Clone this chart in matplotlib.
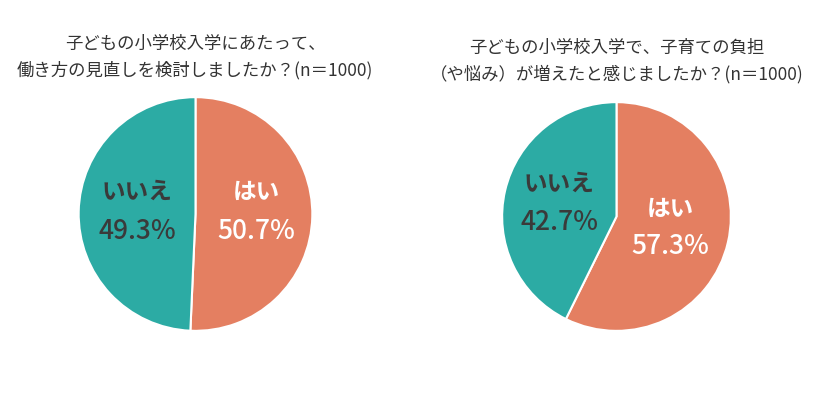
import matplotlib
matplotlib.use("Agg")
import matplotlib.pyplot as plt

plt.rcParams['font.family'] = ['Noto Sans CJK JP', 'DejaVu Sans']

categories = ["はい", "いいえ"]
values_work = [50.7, 49.3]
values_burden = [57.3, 42.7]
title_work = "子どもの小学校入学にあたって、\n働き方の見直しを検討しましたか？(n＝1000)"
title_burden = "子どもの小学校入学で、子育ての負担\n（や悩み）が増えたと感じましたか？(n＝1000)"

colors = ["#E47F61", "#2CABA4"]
text_colors = ["white", "#3A3A3A"]

W, H = 832, 395
fig = plt.figure(figsize=(W / 100, H / 100), dpi=100)
fig.patch.set_facecolor("white")


def draw(cx, cy, r, values, label_pos, title, tx, ty):
    ax = fig.add_axes([(cx - r) / W, (H - cy - r) / H, 2 * r / W, 2 * r / H])
    ax.pie(values, colors=colors, startangle=90, counterclock=False,
           radius=1, wedgeprops=dict(edgecolor="white", linewidth=1.5))
    ax.set_xlim(-1.01, 1.01)
    ax.set_ylim(-1.01, 1.01)
    ax.set_aspect("equal")
    ax.axis("off")
    for (cat, val, tc, (lx, ly, py)) in zip(categories, values, text_colors, label_pos):
        ax.text(lx, ly, cat, ha="center", va="center", fontsize=17,
                color=tc, fontweight="bold")
        ax.text(lx, py, f"{val:.1f}%", ha="center", va="center", fontsize=19,
                color=tc, fontweight="medium")
    fig.text(tx / W, 1 - ty / H, title, ha="center", va="center",
             fontsize=12.5, color="#333333", linespacing=1.55)


draw(195.5, 214, 118, values_work,
     [(0.52, 0.19, -0.15), (-0.50, 0.19, -0.15)],
     title_work, 195, 57)
draw(616.5, 216.5, 115.5, values_burden,
     [(0.47, 0.07, -0.26), (-0.50, 0.29, -0.056)],
     title_burden, 617, 61)

fig.savefig("out.png", dpi=100, facecolor="white")
